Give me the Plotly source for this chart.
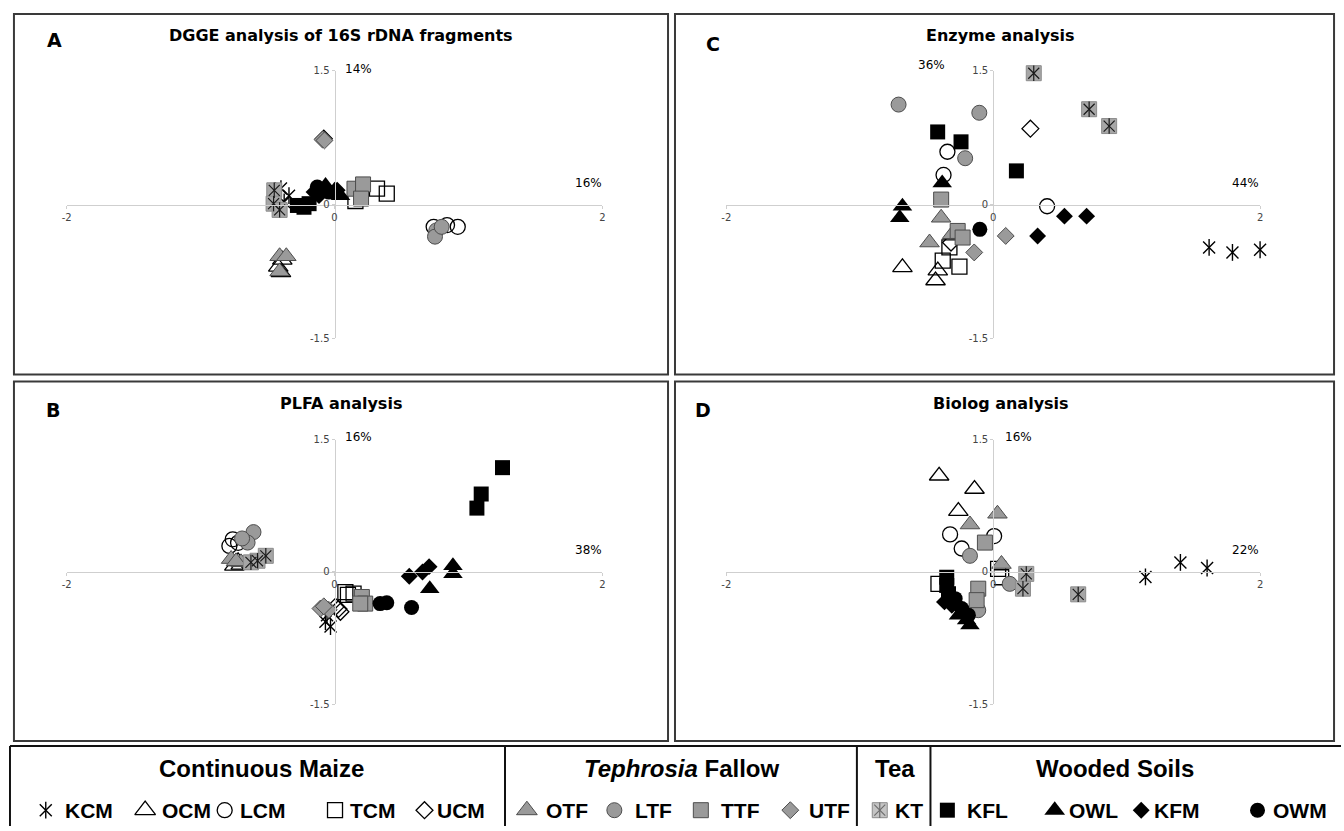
import plotly.graph_objects as go

W, H = 1344, 831

# ---------------- data ----------------
GROUPS = ["KCM", "OCM", "LCM", "TCM", "UCM", "OTF", "LTF", "TTF", "UTF",
          "KT", "KFL", "OWL", "KFM", "OWM"]

CATEGORY_TITLES = ["<b>Continuous Maize</b>", "<b><i>Tephrosia</i> Fallow</b>",
                   "<b>Tea</b>", "<b>Wooded Soils</b>"]

PANEL_TITLES = {"A": "DGGE analysis of 16S rDNA fragments", "C": "Enzyme analysis",
                "B": "PLFA analysis", "D": "Biolog analysis"}
PCT_VERTICAL = {"A": "14%", "C": "36%", "B": "16%", "D": "16%"}
PCT_HORIZONTAL = {"A": "16%", "C": "44%", "B": "38%", "D": "22%"}

X_TICKS = [-2, 0, 2]
Y_TICKS = [-1.5, 0, 1.5]

DGGE = {
    "KCM": [(-0.40, 0.18), (-0.376, 0.03), (-0.34, 0.10)],
    "OCM": [(-0.42, -0.70), (-0.40, -0.76), (-0.39, -0.62)],
    "LCM": [(0.74, -0.25), (0.84, -0.23), (0.92, -0.25)],
    "TCM": [(0.156, 0.04), (0.317, 0.178), (0.39, 0.122)],
    "UCM": [(-0.08, 0.74)],
    "OTF": [(-0.41, -0.58), (-0.36, -0.58), (-0.41, -0.75)],
    "LTF": [(0.76, -0.29), (0.75, -0.36), (0.80, -0.25)],
    "TTF": [(0.149, 0.178), (0.213, 0.226), (0.198, 0.067)],
    "UTF": [(-0.09, 0.73), (-0.075, 0.72)],
    "KT":  [(-0.45, 0.16), (-0.455, 0.01), (-0.41, -0.06)],
    "KFL": [(-0.277, -0.01), (-0.228, -0.03), (-0.19, 0.01)],
    "OWL": [(-0.067, 0.215), (0.0, 0.16), (0.045, 0.10)],
    "KFM": [(-0.153, 0.14), (-0.116, 0.10), (0.02, 0.16)],
    "OWM": [(-0.129, 0.196), (-0.092, 0.16), (-0.042, 0.14)],
}

ENZYME = {
    "KCM": [(1.618, -0.481), (1.793, -0.537), (2.0, -0.507)],
    "OCM": [(-0.68, -0.704), (-0.415, -0.741), (-0.432, -0.852)],
    "LCM": [(-0.343, 0.593), (-0.372, 0.333), (0.404, -0.019)],
    "TCM": [(-0.328, -0.48), (-0.378, -0.63), (-0.253, -0.696)],
    "UCM": [(0.279, 0.852), (-0.316, -0.426)],
    "OTF": [(-0.39, -0.148), (-0.477, -0.426), (-0.308, -0.333)],
    "LTF": [(-0.709, 1.122), (-0.104, 1.03), (-0.21, 0.52)],
    "TTF": [(-0.39, 0.056), (-0.266, -0.296), (-0.229, -0.37)],
    "UTF": [(0.094, -0.352), (-0.142, -0.537)],
    "KT":  [(0.304, 1.474), (0.719, 1.07), (0.869, 0.881)],
    "KFL": [(-0.416, 0.815), (-0.241, 0.704), (0.174, 0.378)],
    "OWL": [(-0.382, 0.241), (-0.68, -0.02), (-0.70, -0.148)],
    "KFM": [(0.534, -0.13), (0.70, -0.13), (0.333, -0.352)],
    "OWM": [(-0.10, -0.278)],
}

PLFA = {
    "KCM": [(-0.068, -0.564), (-0.03, -0.62), (-0.056, -0.49)],
    "OCM": [(-0.748, 0.07), (-0.72, 0.12), (-0.70, 0.08)],
    "LCM": [(-0.785, 0.295), (-0.76, 0.37), (-0.72, 0.33)],
    "TCM": [(0.081, -0.228), (0.142, -0.247), (0.10, -0.26)],
    "UCM": [(0.044, -0.452), (0.007, -0.396), (0.03, -0.42)],
    "OTF": [(-0.772, 0.146), (-0.698, 0.109), (-0.735, 0.12)],
    "LTF": [(-0.605, 0.452), (-0.649, 0.333), (-0.69, 0.38)],
    "TTF": [(0.204, -0.284), (0.229, -0.359), (0.192, -0.359)],
    "UTF": [(-0.105, -0.415), (-0.043, -0.43), (-0.08, -0.39)],
    "KT":  [(-0.513, 0.183), (-0.575, 0.127), (-0.624, 0.109)],
    "KFL": [(1.254, 1.183), (1.095, 0.884), (1.063, 0.724)],
    "OWL": [(0.884, 0.07), (0.884, -0.02), (0.711, -0.19)],
    "KFM": [(0.558, -0.048), (0.657, 0.0), (0.706, 0.06)],
    "OWM": [(0.34, -0.359), (0.39, -0.35), (0.575, -0.404)],
}

BIOLOG = {
    "KCM": [(1.141, -0.056), (1.403, 0.108), (1.603, 0.045)],
    "OCM": [(-0.405, 1.091), (-0.14, 0.941), (-0.261, 0.69)],
    "LCM": [(-0.323, 0.426), (0.007, 0.407), (-0.236, 0.266)],
    "TCM": [(0.037, 0.034), (-0.41, -0.135), (0.06, -0.06)],
    "UCM": [],
    "OTF": [(0.032, 0.66), (-0.174, 0.538), (0.062, 0.09)],
    "LTF": [(-0.174, 0.183), (0.124, -0.135), (-0.112, -0.434)],
    "TTF": [(-0.062, 0.333), (-0.112, -0.19), (-0.124, -0.32)],
    "UTF": [],
    "KT":  [(0.248, -0.022), (0.223, -0.19), (0.637, -0.254)],
    "KFL": [(-0.348, -0.06), (-0.348, -0.153), (-0.335, -0.247)],
    "OWL": [(-0.199, -0.546), (-0.174, -0.602), (-0.26, -0.49)],
    "KFM": [(-0.365, -0.34), (-0.31, -0.377), (-0.25, -0.40)],
    "OWM": [(-0.285, -0.303), (-0.236, -0.415), (-0.186, -0.49)],
}

PANEL_DATA = {"A": DGGE, "C": ENZYME, "B": PLFA, "D": BIOLOG}

# ---------------- styles / layout ----------------
STYLE = {
    "KCM": ("asterisk", "black"), "OCM": ("triangle-up", "open"),
    "LCM": ("circle", "open"), "TCM": ("square", "open"), "UCM": ("diamond", "open"),
    "OTF": ("triangle-up", "gray"), "LTF": ("circle", "gray"),
    "TTF": ("square", "gray"), "UTF": ("diamond", "gray"),
    "KT": ("kt", "gray"), "KFL": ("square", "black"), "OWL": ("triangle-up", "black"),
    "KFM": ("diamond", "black"), "OWM": ("circle", "black"),
}
SIZES = {"circle": 15, "square": 15, "triangle-up": 17, "diamond": 13, "asterisk": 12, "kt": 15}
GRAY_FILL, GRAY_LINE = "#9a9a9a", "#4d4d4d"

PANELS = {
    "A": dict(ax=1, x0=62, x1=601, yt=66.7, yb=337.3, box=(9, 9, 667, 374),
              title=(338, 31), letter=(50, 35), pv=(356, 65), ph=(587, 180)),
    "C": dict(ax=2, x0=725.6, x1=1262.6, yt=66.7, yb=337.3, box=(674, 9, 1337, 374),
              title=(1001, 31), letter=(712, 39), pv=(932, 60.5), ph=(1248, 180)),
    "B": dict(ax=3, x0=62, x1=601, yt=440, yb=707.7, box=(9, 381, 667, 745),
              title=(338.5, 403), letter=(48, 409.5), pv=(356, 437), ph=(587, 552)),
    "D": dict(ax=4, x0=725.6, x1=1262.6, yt=440, yb=707.7, box=(674, 381, 1337, 745),
              title=(1001.5, 403), letter=(702, 409.5), pv=(1019.5, 437), ph=(1248, 552)),
}

LEG_SYM_X = [41, 141, 221, 332, 422, 525, 613, 700, 790, 880, 948, 1056, 1143, 1260]
LEG_TXT_X = [58, 156, 234, 345, 433, 542, 632, 718, 807, 893, 966, 1068, 1154, 1274]
LEG_ROW1_X = [258, 681, 895, 1117]
LEG_ROW1_Y, LEG_ROW2_Y = 773, 815
LEG_TOP = 750
LEG_DIVIDERS = [5, 503, 857, 931]


def fx(px):
    return px / W


def fy(py):
    return 1 - py / H


fig = go.Figure()


def add_group(xs, ys, group, xa, ya, legend=False):
    if not xs:
        return
    sym, kind = STYLE[group]
    size = SIZES[sym]
    common = dict(x=xs, y=ys, mode="markers", xaxis=xa, yaxis=ya,
                  hoverinfo="skip", showlegend=False, cliponaxis=False)
    if legend and sym == "triangle-up":
        size = 18
    if sym == "asterisk":
        for s in ("x-thin-open", "line-ns-open"):
            fig.add_trace(go.Scatter(**common, marker=dict(
                symbol=s, size=size, color="black", line=dict(color="black", width=1.4))))
        return
    if sym == "kt":
        sq_fill = "#c4c4c4" if legend else "#a6a6a6"
        ast_col = "#6e6e6e" if legend else "#1a1a1a"
        fig.add_trace(go.Scatter(**common, marker=dict(
            symbol="square", size=size, color=sq_fill, line=dict(color="#8c8c8c", width=1))))
        for s in ("x-thin-open", "line-ns-open"):
            fig.add_trace(go.Scatter(**common, marker=dict(
                symbol=s, size=11, color=ast_col, line=dict(color=ast_col, width=1.2))))
        return
    if kind == "open":
        marker = dict(symbol=sym + "-open", size=size, color="black",
                      line=dict(color="black", width=1.3))
    elif kind == "gray":
        marker = dict(symbol=sym, size=size, color=GRAY_FILL,
                      line=dict(color=GRAY_LINE, width=1))
    else:
        marker = dict(symbol=sym, size=size, color="black", line=dict(color="black", width=0))
    fig.add_trace(go.Scatter(**common, marker=marker))


layout_axes = {}
shapes = []
annotations = []
tick_font = dict(family="DejaVu Sans", size=10, color="#444444")

for key, p in PANELS.items():
    n = p["ax"]
    xa, ya = f"x{n}", f"y{n}"
    xdom = [fx(p["x0"]), fx(p["x1"])]
    ydom = [fy(p["yb"]), fy(p["yt"])]
    xpos = xdom[0] + 0.5 * (xdom[1] - xdom[0])
    ypos = ydom[0] + 0.5 * (ydom[1] - ydom[0])
    layout_axes[f"xaxis{n}"] = dict(
        domain=xdom, range=[-2, 2], anchor="free", position=ypos,
        showline=True, linecolor="#cfcfcf", linewidth=1, showgrid=False, zeroline=False,
        ticks="outside", ticklen=3, tickcolor="#cfcfcf", tickvals=X_TICKS,
        ticktext=[str(v) for v in X_TICKS], tickfont=tick_font, fixedrange=True)
    layout_axes[f"yaxis{n}"] = dict(
        domain=ydom, range=[-1.5, 1.5], anchor="free", position=xpos,
        showline=True, linecolor="#cfcfcf", linewidth=1, showgrid=False, zeroline=False,
        ticks="outside", ticklen=3, tickcolor="#cfcfcf", tickvals=Y_TICKS,
        ticktext=[("%g" % v) for v in Y_TICKS], tickfont=tick_font, fixedrange=True)

    data = PANEL_DATA[key]
    for g in GROUPS:
        pts = data.get(g, [])
        add_group([q[0] for q in pts], [q[1] for q in pts], g, xa, ya)

    bx0, by0, bx1, by1 = p["box"]
    shapes.append(dict(type="rect", xref="x5", yref="y5", x0=bx0, y0=by0, x1=bx1, y1=by1,
                       line=dict(color="#3a3a3a", width=2), fillcolor="rgba(0,0,0,0)", layer="below"))
    annotations.append(dict(xref="x5", yref="y5", x=p["title"][0], y=p["title"][1],
                            text="<b>%s</b>" % PANEL_TITLES[key], showarrow=False,
                            font=dict(family="DejaVu Sans", size=16, color="black")))
    annotations.append(dict(xref="x5", yref="y5", x=p["letter"][0], y=p["letter"][1],
                            text="<b>%s</b>" % key, showarrow=False,
                            font=dict(family="DejaVu Sans", size=19, color="black")))
    annotations.append(dict(xref="x5", yref="y5", x=p["pv"][0], y=p["pv"][1],
                            text=PCT_VERTICAL[key], showarrow=False,
                            font=dict(family="DejaVu Sans", size=12, color="black")))
    annotations.append(dict(xref="x5", yref="y5", x=p["ph"][0], y=p["ph"][1],
                            text=PCT_HORIZONTAL[key], showarrow=False,
                            font=dict(family="DejaVu Sans", size=12, color="black")))

# pixel overlay axis for decoration / legend table
layout_axes["xaxis5"] = dict(domain=[0, 1], range=[0, W], visible=False, fixedrange=True, anchor="y5")
layout_axes["yaxis5"] = dict(domain=[0, 1], range=[H, 0], visible=False, fixedrange=True, anchor="x5")

# legend table
shapes.append(dict(type="line", xref="x5", yref="y5", x0=5, x1=W + 5, y0=LEG_TOP, y1=LEG_TOP,
                   line=dict(color="#111111", width=2)))
for dx in LEG_DIVIDERS:
    shapes.append(dict(type="line", xref="x5", yref="y5", x0=dx, x1=dx, y0=LEG_TOP, y1=H + 5,
                       line=dict(color="#111111", width=2)))
for t, cx in zip(CATEGORY_TITLES, LEG_ROW1_X):
    annotations.append(dict(xref="x5", yref="y5", x=cx, y=LEG_ROW1_Y, text=t, showarrow=False,
                            font=dict(family="Liberation Sans", size=24, color="black")))
for g, sx, tx in zip(GROUPS, LEG_SYM_X, LEG_TXT_X):
    add_group([sx], [LEG_ROW2_Y], g, "x5", "y5", legend=True)
    annotations.append(dict(xref="x5", yref="y5", x=tx, y=LEG_ROW2_Y, text="<b>%s</b>" % g,
                            showarrow=False, xanchor="left",
                            font=dict(family="Liberation Sans", size=21, color="black")))

fig.update_layout(
    width=W, height=H, autosize=False, margin=dict(l=0, r=0, t=0, b=0),
    paper_bgcolor="white", plot_bgcolor="rgba(0,0,0,0)",
    shapes=shapes, annotations=annotations, showlegend=False, **layout_axes)

fig.write_html("out.html", config={"displayModeBar": False},
               post_script="document.body.style.margin='0px';document.body.style.overflow='hidden';")
